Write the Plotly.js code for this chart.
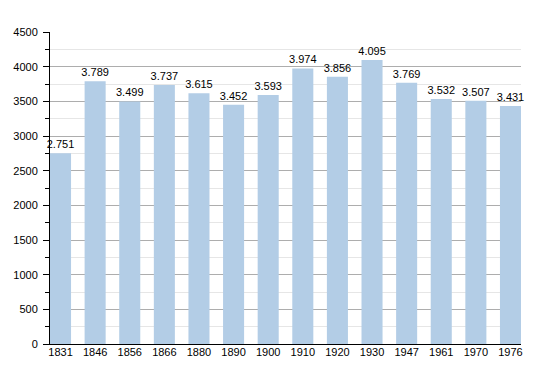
<!DOCTYPE html>
<html>
<head>
<meta charset="utf-8">
<script src="https://cdn.plot.ly/plotly-3.0.1.min.js"></script>
<style>html,body{margin:0;padding:0;background:#fff;}#chart{width:550px;height:373px;}</style>
</head>
<body>
<div id="chart"></div>
<script>
const years = ["1831","1846","1856","1866","1880","1890","1900","1910","1920","1930","1947","1961","1970","1976"];
const population = [2751, 3789, 3499, 3737, 3615, 3452, 3593, 3974, 3856, 4095, 3769, 3532, 3507, 3431];
const labels = ["2.751","3.789","3.499","3.737","3.615","3.452","3.593","3.974","3.856","4.095","3.769","3.532","3.507","3.431"];
const yTicks = [0,500,1000,1500,2000,2500,3000,3500,4000,4500];

const font = "Liberation Sans, Arial, Helvetica, sans-serif";
Plotly.newPlot('chart', [{
  type: 'bar',
  x: years,
  y: population,
  text: labels,
  textposition: 'outside',
  constraintext: 'none',
  cliponaxis: false,
  textfont: {family: font, size: 11, color: '#000'},
  marker: {color: '#b3cde6', line: {width: 0}},
  width: 0.608,
  hoverinfo: 'none'
}], {
  width: 550, height: 373,
  margin: {l: 50, r: 29, t: 32, b: 29},
  paper_bgcolor: '#fff', plot_bgcolor: '#fff',
  showlegend: false,
  bargap: 0.39,
  xaxis: {
    type: 'category',
    range: [-0.304, 13.304],
    showgrid: false,
    showline: true, linecolor: '#000', linewidth: 1,
    ticks: '',
    ticklabelstandoff: -2,
    tickfont: {family: font, size: 11, color: '#000'},
    fixedrange: true
  },
  yaxis: {
    range: [0, 4500],
    tickvals: yTicks,
    ticktext: yTicks.map(String),
    showline: true, linecolor: '#000', linewidth: 1,
    ticks: 'outside', ticklen: 6, tickcolor: '#000', tickwidth: 1,
    ticklabelstandoff: 3,
    showgrid: true, gridcolor: '#adadad', gridwidth: 1,
    zeroline: false,
    tickfont: {family: font, size: 11, color: '#000'},
    minor: {dtick: 250, tick0: 0, showgrid: true, gridcolor: '#e6e6e6', ticks: 'outside', ticklen: 4, tickcolor: '#000'},
    fixedrange: true
  }
}, {staticPlot: true});
</script>
</body>
</html>
